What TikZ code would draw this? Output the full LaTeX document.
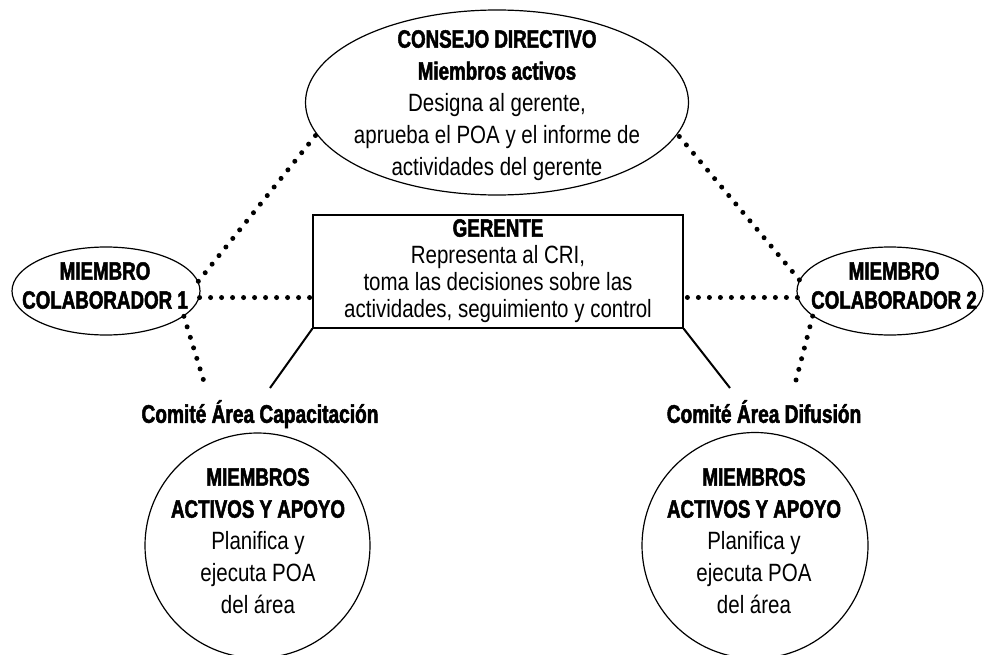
\documentclass[tikz,border=0pt]{standalone}
\usepackage{fontspec}
\setmainfont{Liberation Sans}[FakeStretch=0.82,BoldFeatures={FakeStretch=0.75,FakeBold=2}]
\usetikzlibrary{shapes.geometric}
\begin{document}
\begin{tikzpicture}[x=1pt,y=-1pt,
  frame/.style={draw,line width=1.2pt,inner sep=0pt},
  oval/.style={frame,ellipse},
  txt/.style={align=center,inner sep=0pt,anchor=north},
  big/.style={font=\fontsize{25}{32}\selectfont},
  dots/.style={line width=5pt,line cap=round,dash pattern=on 0pt off 11pt},
  link/.style={line width=2pt}]
\useasboundingbox (0,0) rectangle (984,655);

% shapes
\node[oval,minimum width=383pt,minimum height=185pt] (cd) at (497,102.5) {};
\node[frame,minimum width=370pt,minimum height=113pt] (ger) at (498,271.5) {};
\node[oval,minimum width=188pt,minimum height=88pt] (lc) at (106,291) {};
\node[oval,minimum width=186pt,minimum height=88pt] (rc) at (890,291) {};
\node[frame,circle,minimum size=225pt] (c1) at (257.5,545.5) {};
\node[frame,circle,minimum size=226pt] (c2) at (755,545.5) {};

% texts
\node[txt,big] (cdt) at (497,30) {\textbf{CONSEJO DIRECTIVO}\\ \textbf{Miembros activos}\\ Designa al gerente,\\ aprueba el POA y el informe de\\ actividades del gerente};
\node[txt,font=\fontsize{25}{27}\selectfont] (gert) at (498,219) {\textbf{GERENTE}\\ Representa al CRI,\\ toma las decisiones sobre las\\ actividades, seguimiento y control};
\node[txt,font=\fontsize{25}{29}\selectfont] (lct) at (105,262) {\textbf{MIEMBRO}\\ \textbf{COLABORADOR 1}};
\node[txt,font=\fontsize{25}{29}\selectfont] (rct) at (894,262) {\textbf{MIEMBRO}\\ \textbf{COLABORADOR 2}};
\node[txt,font=\bfseries\fontsize{25.5}{30}\selectfont] (cap) at (260,400) {Comité Área Capacitación};
\node[txt,font=\bfseries\fontsize{25.5}{30}\selectfont] (dif) at (764,400) {Comité Área Difusión};
\node[txt,big] (c1t) at (258,468) {\textbf{MIEMBROS}\\ \textbf{ACTIVOS Y APOYO}\\ Planifica y\\ ejecuta POA\\ del área};
\node[txt,big] (c2t) at (754,468) {\textbf{MIEMBROS}\\ \textbf{ACTIVOS Y APOYO}\\ Planifica y\\ ejecuta POA\\ del área};

% connector ends above the committee labels
\coordinate (capL) at (270,388);
\coordinate (difL) at (730,388);
\coordinate (capD) at (205,385);
\coordinate (difD) at (795,384);

% dotted connectors
\draw[dots] (lc.6) -- (cd.190);
\draw[dots] (rc.173) -- (cd.350);
\draw[dots] (lc.-4) -- (lc.-4 -| ger.west);
\draw[dots] (rc.184) -- (rc.184 -| ger.east);
\draw[dots] (lc.-18) -- (capD);
\draw[dots] (rc.198) -- (difD);

% solid connectors
\draw[link] (ger.south west) -- (capL);
\draw[link] (ger.south east) -- (difL);
\end{tikzpicture}
\end{document}
